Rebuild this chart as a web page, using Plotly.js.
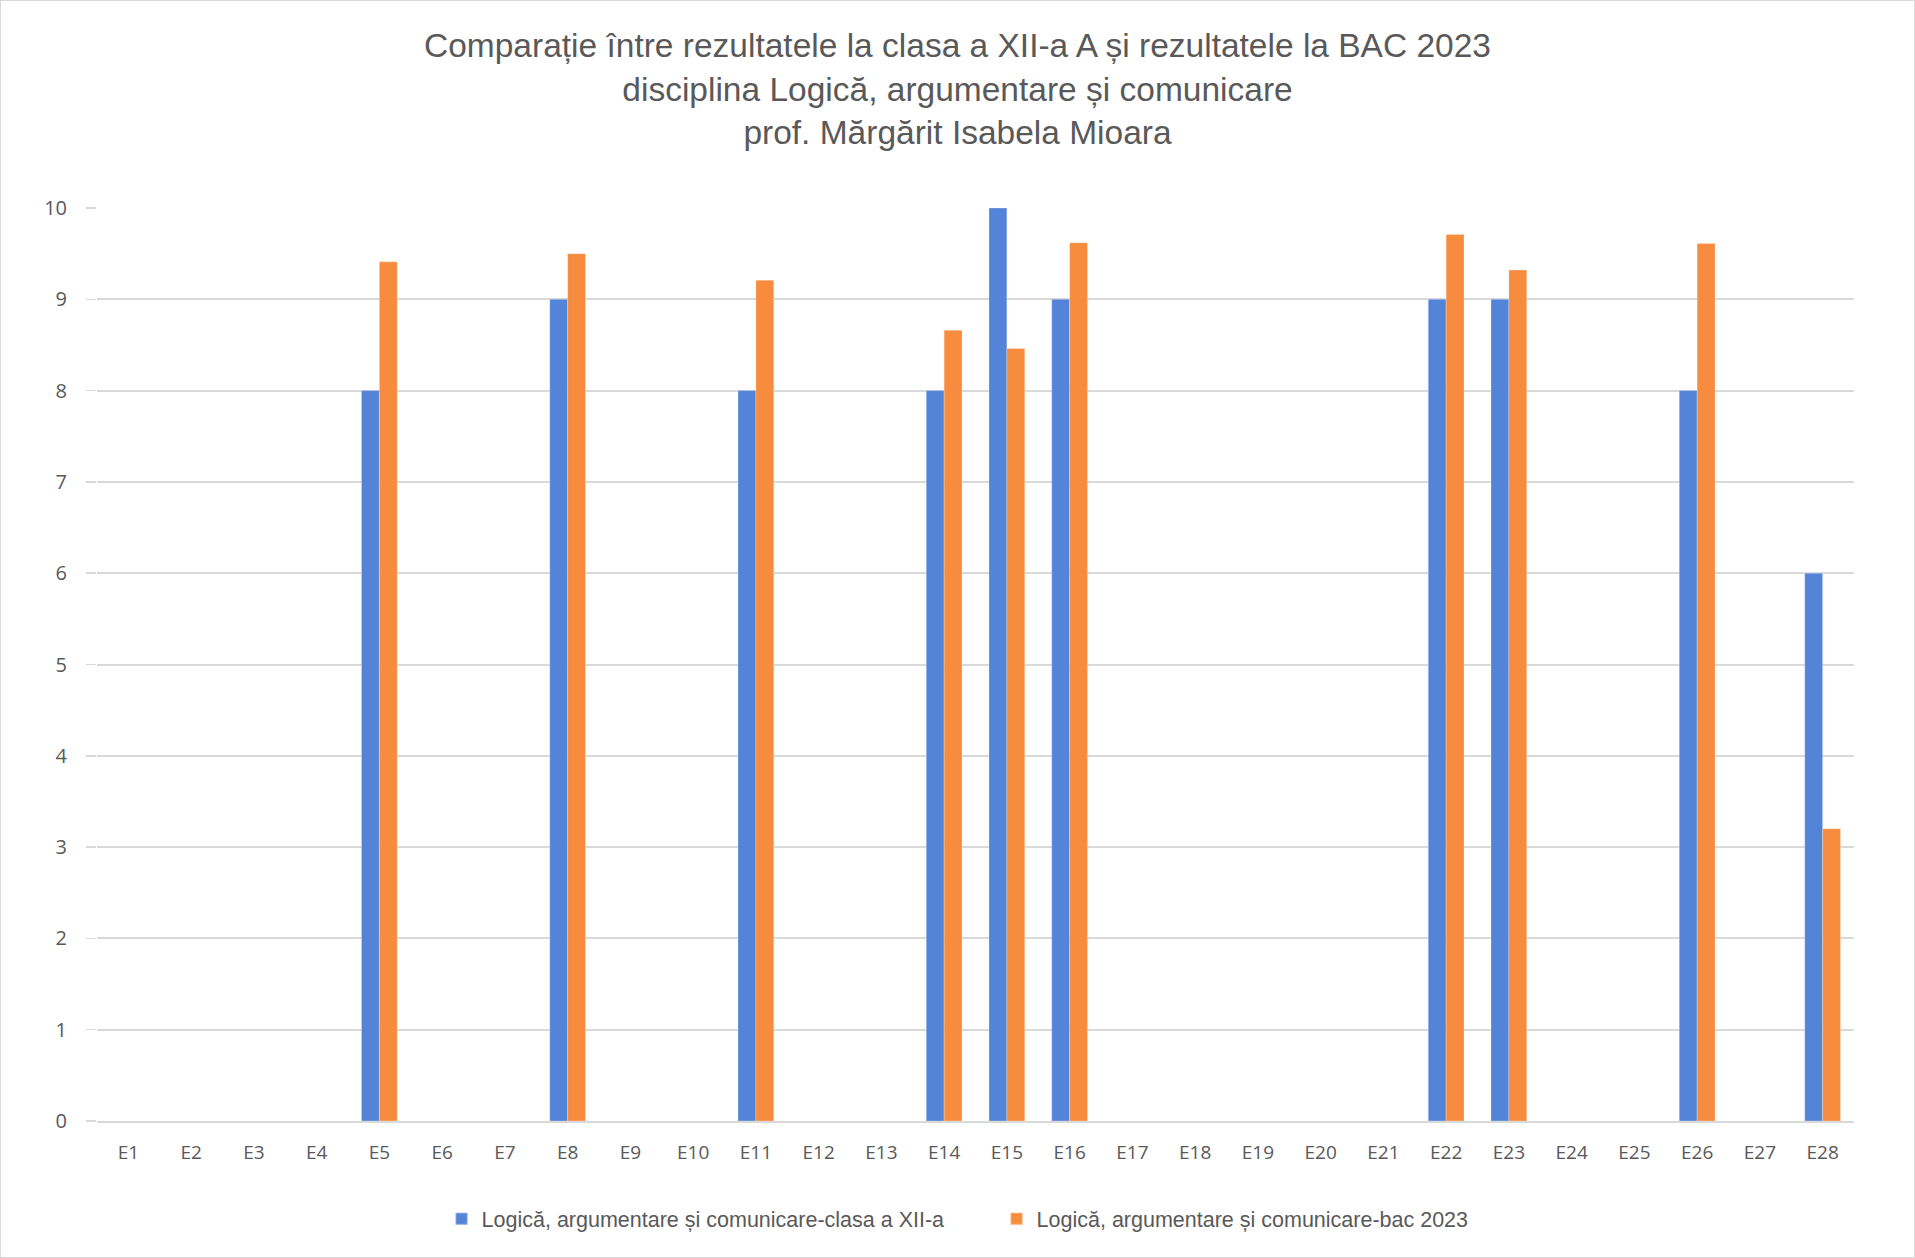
<!DOCTYPE html>
<html>
<head>
<meta charset="utf-8">
<script src="https://cdn.plot.ly/plotly-3.0.1.min.js"></script>
<style>
  html, body { margin: 0; padding: 0; background: #fff; }
  #chart { width: 1913px; height: 1256px; border: 1px solid #d9d9d9; }
</style>
</head>
<body>
<div id="chart"></div>
<script>
const categories = ["E1","E2","E3","E4","E5","E6","E7","E8","E9","E10","E11","E12","E13","E14","E15","E16","E17","E18","E19","E20","E21","E22","E23","E24","E25","E26","E27","E28"];
const clasaValues = [0,0,0,0,8,0,0,9,0,0,8,0,0,8,10,9,0,0,0,0,0,9,9,0,0,8,0,6];
const bacValues   = [0,0,0,0,9.41,0,0,9.5,0,0,9.21,0,0,8.66,8.46,9.62,0,0,0,0,0,9.71,9.32,0,0,9.61,0,3.2];
const seriesNames = ["Logică, argumentare și comunicare-clasa a XII-a", "Logică, argumentare și comunicare-bac 2023"];
const yTicks = [0,1,2,3,4,5,6,7,8,9,10];
const titleLines = ["Comparație între rezultatele la clasa a XII-a A și rezultatele la BAC 2023", "disciplina Logică, argumentare și comunicare", "prof. Mărgărit Isabela Mioara"];

const textFont = "Liberation Sans, Arial, sans-serif";
const tickFont = "Open Sans, sans-serif";
const grey = "#595959";

const traces = [
  { type: "bar", x: categories, y: clasaValues, name: seriesNames[0],
    marker: { color: "#5484d7", line: { color: "rgba(255,255,255,0.25)", width: 1 } } },
  { type: "bar", x: categories, y: bacValues, name: seriesNames[1],
    marker: { color: "#f78c3e", line: { color: "rgba(255,255,255,0.25)", width: 1 } } }
];

const layout = {
  width: 1913, height: 1256,
  paper_bgcolor: "#ffffff", plot_bgcolor: "#ffffff",
  margin: { l: 96, r: 60, t: 207, b: 136 },
  barmode: "group", bargap: 0.43, bargroupgap: 0,
  title: {
    text: titleLines.join("<br>"),
    font: { family: textFont, size: 33.5, color: grey },
    x: 0.5, xanchor: "center", xref: "container",
    y: 1 - 56/1256, yanchor: "top", yref: "container"
  },
  xaxis: {
    type: "category", showgrid: false, zeroline: false,
    showline: true, linecolor: "#d9d9d9", linewidth: 2,
    ticks: "", tickfont: { family: tickFont, size: 19, color: grey },
    ticklabelstandoff: 13
  },
  yaxis: {
    range: [0, 10], tickvals: yTicks, ticktext: yTicks.map(String),
    showgrid: true, gridcolor: "#d9d9d9", gridwidth: 2,
    zeroline: false, showline: false,
    ticks: "outside", ticklen: 10, tickcolor: "#d9d9d9", tickwidth: 1.5,
    tickfont: { family: tickFont, size: 20, color: grey },
    ticklabelstandoff: 15
  },
  showlegend: true,
  legend: {
    orientation: "h", x: 0.512, xanchor: "center", y: -0.107, yanchor: "middle",
    font: { family: textFont, size: 21.5, color: grey },
    itemwidth: 30, itemsizing: "constant",
    entrywidth: 510, entrywidthmode: "pixels"
  }
};

Plotly.newPlot("chart", traces, layout, { displayModeBar: false, staticPlot: true });
</script>
</body>
</html>
